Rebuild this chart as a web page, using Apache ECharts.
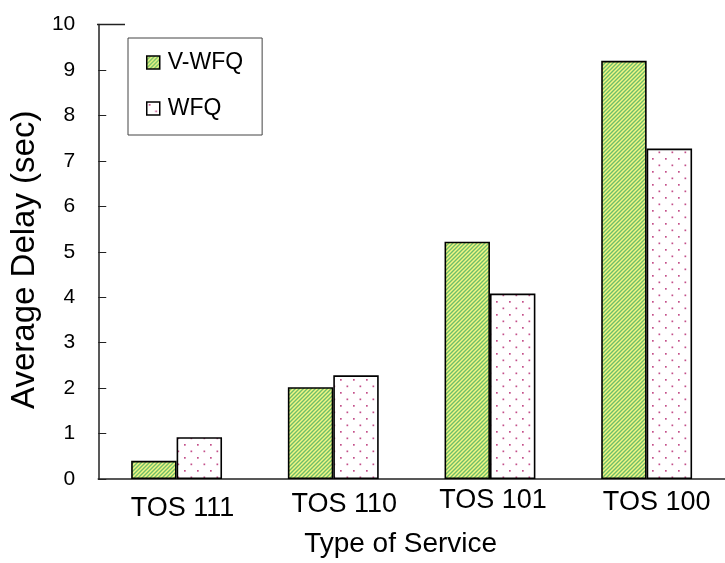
<!DOCTYPE html>
<html>
<head>
<meta charset="utf-8">
<script src="https://cdn.jsdelivr.net/npm/echarts@6/dist/echarts.min.js"></script>
<style>
html,body{margin:0;padding:0;background:#fff;}
#chart{width:725px;height:563px;}
</style>
</head>
<body>
<div id="chart"></div>
<script>
// Average delay per type of service, two schedulers
const categories = ['TOS 111', 'TOS 110', 'TOS 101', 'TOS 100'];
const seriesNames = ['V-WFQ', 'WFQ'];
const vwfqDelay = [0.4, 2.02, 5.22, 9.2];
const wfqDelay = [0.92, 2.28, 4.08, 7.27];
const yTicks = [0, 1, 2, 3, 4, 5, 6, 7, 8, 9, 10];

// Hand-placed nudges for the category labels: [down, right] in px
const labelNudge = [[8, 6], [4, 11], [0, 3], [2, 10]];

// Hatch fill: yellow ground with green "/" stripes
function stripePattern() {
  const s = 4;
  const c = document.createElement('canvas');
  c.width = s; c.height = s;
  const g = c.getContext('2d');
  g.fillStyle = '#f3f684';
  g.fillRect(0, 0, s, s);
  g.strokeStyle = '#6fbe6a';
  g.lineWidth = 1.4;
  g.beginPath();
  for (let k = -1; k <= 1; k++) {
    g.moveTo(k * s - 1, s + 1);
    g.lineTo(k * s + s + 1, -1);
  }
  g.stroke();
  return c;
}
// Dot fill: white ground with staggered pink dots
function dotPattern() {
  const c = document.createElement('canvas');
  c.width = 13; c.height = 13;
  const g = c.getContext('2d');
  g.fillStyle = '#ffffff';
  g.fillRect(0, 0, 13, 13);
  g.fillStyle = '#c4508a';
  g.fillRect(2, 2, 1.7, 1.7);
  g.fillRect(8.5, 8.5, 1.7, 1.7);
  return c;
}

const chart = echarts.init(document.getElementById('chart'), null, {renderer: 'canvas'});
const font = 'Liberation Sans, Arial, sans-serif';

const richLabels = {};
labelNudge.forEach((n, i) => {
  richLabels['c' + i] = {
    fontFamily: font, fontSize: 27, color: '#000',
    padding: [n[0], 0, 0, n[1] * 2]
  };
});

const gridLeft = 97;

chart.setOption({
  animation: false,
  backgroundColor: '#ffffff',
  grid: {left: gridLeft, right: -9, top: 24.5, bottom: 82.5, containLabel: false},
  legend: {
    orient: 'vertical',
    left: 128,
    top: 38,
    padding: [13, 19, 15, 18],
    itemGap: 23,
    itemWidth: 13,
    itemHeight: 13,
    backgroundColor: '#ffffff',
    borderColor: '#444',
    borderWidth: 1,
    borderRadius: 0,
    icon: 'rect',
    itemStyle: {borderWidth: 1.5},
    textStyle: {fontFamily: font, fontSize: 23, color: '#000', padding: [0, 0, 0, 3]},
    data: seriesNames
  },
  xAxis: {
    type: 'category',
    data: categories,
    axisLine: {show: true, lineStyle: {color: '#222', width: 1.5}},
    axisTick: {show: false},
    axisLabel: {
      margin: 8,
      interval: 0,
      formatter: (v, i) => '{c' + i + '|' + v + '}',
      rich: richLabels
    },
    name: 'Type of Service',
    nameLocation: 'middle',
    nameGap: 51,
    nameTextStyle: {fontFamily: font, fontSize: 28, color: '#000', padding: [0, 22, 0, 0]}
  },
  yAxis: {
    type: 'value',
    min: yTicks[0],
    max: yTicks[yTicks.length - 1],
    interval: 1,
    axisLine: {show: true, lineStyle: {color: '#222', width: 1.5}},
    axisTick: {show: true, inside: true, length: 8, lineStyle: {color: '#222', width: 1}},
    axisLabel: {fontFamily: font, fontSize: 21, color: '#000', margin: 23},
    splitLine: {show: false},
    name: 'Average Delay (sec)',
    nameLocation: 'middle',
    nameGap: 52,
    nameTextStyle: {fontFamily: font, fontSize: 33, color: '#000', padding: [0, 16, 0, 0]}
  },
  series: [
    {
      name: seriesNames[0],
      type: 'bar',
      data: vwfqDelay,
      barGap: '0%',
      barCategoryGap: '42%',
      itemStyle: {color: {image: stripePattern(), repetition: 'repeat'}, borderColor: '#000', borderWidth: 1.6}
    },
    {
      name: seriesNames[1],
      type: 'bar',
      data: wfqDelay,
      barGap: '0%',
      barCategoryGap: '42%',
      itemStyle: {color: {image: dotPattern(), repetition: 'repeat'}, borderColor: '#000', borderWidth: 1.6}
    }
  ]
});

// Short cap line at the top of the value axis
const topY = chart.convertToPixel({yAxisIndex: 0}, yTicks[yTicks.length - 1]);
chart.setOption({
  graphic: [{
    type: 'line',
    shape: {x1: gridLeft, y1: topY, x2: gridLeft + 28, y2: topY},
    style: {stroke: '#222', lineWidth: 1.5}
  }]
});
</script>
</body>
</html>
